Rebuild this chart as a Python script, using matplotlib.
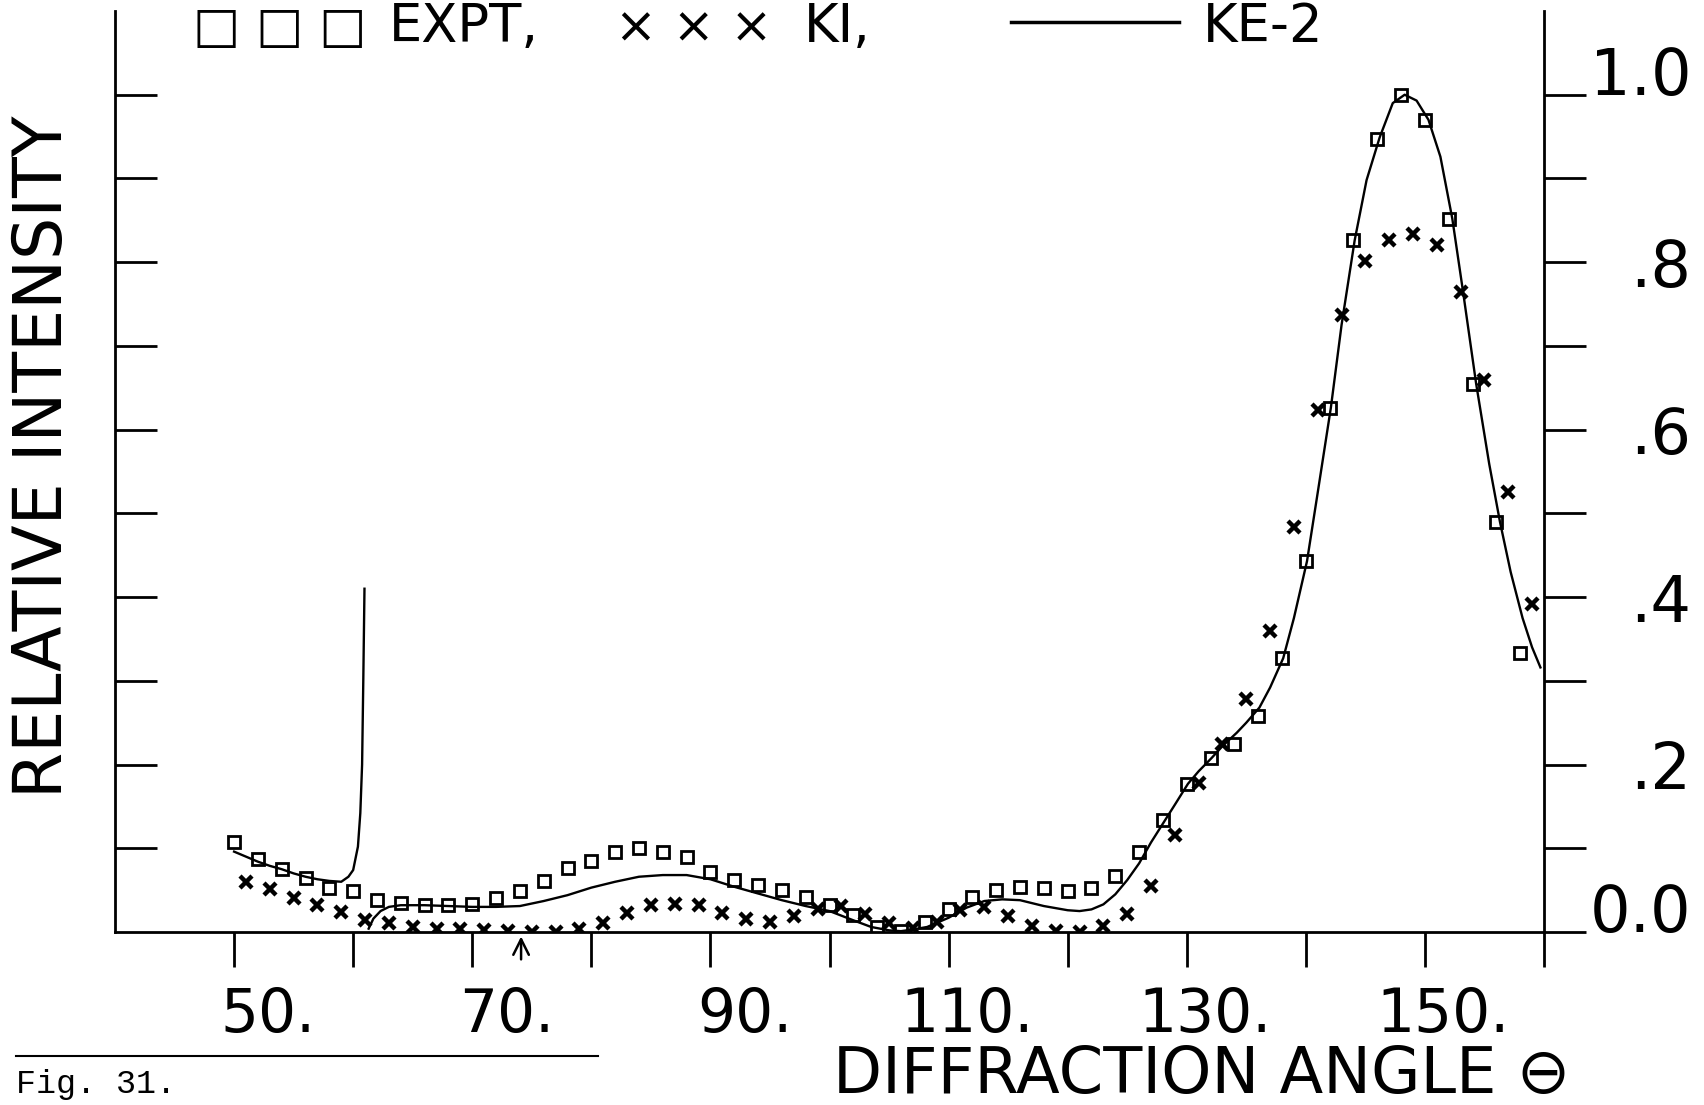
import matplotlib
matplotlib.use("Agg")
import matplotlib.pyplot as plt
import matplotlib.transforms as mtransforms
from matplotlib.lines import Line2D
import numpy as np

# EXPT (squares)
expt_x = [50, 52, 54, 56, 58, 60, 62, 64, 66, 68, 70, 72, 74, 76, 78, 80, 82, 84, 86, 88,
          90, 92, 94, 96, 98, 100, 102, 104, 106, 108, 110, 112, 114, 116, 118, 120, 122, 124, 126, 128,
          130, 132, 134, 136, 138, 140, 142, 144, 146, 148, 150, 152, 154, 156, 158]
expt_y = [0.108, 0.087, 0.075, 0.065, 0.053, 0.049, 0.038, 0.035, 0.032, 0.032, 0.033, 0.041, 0.049, 0.061, 0.076, 0.085, 0.096, 0.100, 0.096, 0.089,
          0.072, 0.062, 0.056, 0.050, 0.042, 0.032, 0.020, 0.006, 0.001, 0.012, 0.028, 0.042, 0.050, 0.054, 0.052, 0.049, 0.052, 0.067, 0.095, 0.134,
          0.177, 0.208, 0.225, 0.258, 0.327, 0.443, 0.626, 0.826, 0.947, 1.000, 0.970, 0.852, 0.655, 0.490, 0.333]

# KI (crosses)
ki_x = [51, 53, 55, 57, 59, 61, 63, 65, 67, 69, 71, 73, 75, 77, 79, 81, 83, 85, 87, 89,
        91, 93, 95, 97, 99, 101, 103, 105, 107, 109, 111, 113, 115, 117, 119, 121, 123, 125, 127, 129,
        131, 133, 135, 137, 139, 141, 143, 145, 147, 149, 151, 153, 155, 157, 159]
ki_y = [0.060, 0.051, 0.041, 0.032, 0.024, 0.014, 0.011, 0.006, 0.004, 0.004, 0.002, 0.001, 0.000, 0.000, 0.004, 0.011, 0.023, 0.032, 0.034, 0.032,
        0.023, 0.015, 0.012, 0.019, 0.028, 0.031, 0.022, 0.011, 0.005, 0.012, 0.026, 0.030, 0.019, 0.007, 0.001, 0.000, 0.007, 0.021, 0.055, 0.116,
        0.178, 0.225, 0.278, 0.360, 0.484, 0.623, 0.737, 0.801, 0.827, 0.834, 0.820, 0.764, 0.659, 0.525, 0.392]

# KE-2 curve, first pen stroke (ends in the spike) and the rest
ke_a_x = [50.0, 51.0, 52.0, 53.0, 54.0, 55.0, 56.0, 57.0, 58.0, 59.0, 59.6, 60.0, 60.4, 60.6, 60.75, 60.85, 60.95]
ke_a_y = [0.096, 0.090, 0.084, 0.079, 0.075, 0.070, 0.066, 0.063, 0.061, 0.060, 0.066, 0.074, 0.102, 0.142, 0.20, 0.30, 0.41]

ke_b_x = [61.3, 61.7, 62.3, 63.0, 64.0, 66.0, 68.0, 70.0, 72.0, 74.0, 76.0, 78.0, 80.0, 82.0, 84.0, 86.0, 88.0, 90.0,
          92.0, 94.0, 96.0, 98.0, 100.0, 102.0, 103.5, 105.0, 106.0, 107.0, 108.2, 110.0, 111.5, 113.0, 114.5, 116.0,
          118.0, 120.0, 121.0, 122.0, 123.0, 124.0, 125.0, 126.0, 127.0, 128.2, 129.0, 130.1, 131.0, 132.1, 133.0,
          134.2, 135.0, 136.1, 137.0, 138.1, 139.0, 140.1, 141.0, 142.1, 143.0, 144.1, 145.1, 146.2, 147.3, 148.3,
          149.3, 150.3, 151.3, 152.3, 153.2, 154.3, 155.4, 156.3, 157.2, 158.2, 159.0, 159.7]
ke_b_y = [0.004, 0.016, 0.025, 0.030, 0.032, 0.032, 0.031, 0.030, 0.030, 0.031, 0.037, 0.044, 0.053, 0.060, 0.066, 0.068, 0.068, 0.063,
          0.054, 0.046, 0.038, 0.031, 0.025, 0.014, 0.006, 0.002, 0.001, 0.003, 0.006, 0.017, 0.029, 0.037, 0.039, 0.038,
          0.031, 0.026, 0.025, 0.027, 0.033, 0.045, 0.062, 0.082, 0.107, 0.134, 0.152, 0.177, 0.192, 0.208, 0.222,
          0.238, 0.250, 0.268, 0.292, 0.327, 0.375, 0.443, 0.525, 0.626, 0.725, 0.826, 0.898, 0.949, 0.990, 1.000,
          0.993, 0.970, 0.926, 0.852, 0.765, 0.655, 0.559, 0.490, 0.430, 0.375, 0.340, 0.316]

x_ticks = [50, 60, 70, 80, 90, 100, 110, 120, 130, 140, 150, 160]
x_labels = ["50.", "", "70.", "", "90.", "", "110.", "", "130.", "", "150.", ""]
y_ticks_right = [0.0, 0.1, 0.2, 0.3, 0.4, 0.5, 0.6, 0.7, 0.8, 0.9, 1.0]
y_labels_right = ["0.0", "", ".2", "", ".4", "", ".6", "", ".8", "", "1.0"]

W, H = 1704, 1105
fig = plt.figure(figsize=(W / 100, H / 100), dpi=100)
plt.rcParams['font.family'] = ['DejaVu Sans']

ax = fig.add_axes([115 / W, 173 / H, 1429 / W, 921 / H])
ax.set_xlim(40, 160)
ax.set_ylim(0, 1.1)

ax.plot(ke_a_x, ke_a_y, color='black', lw=1.7)
ax.plot(ke_b_x, ke_b_y, color='black', lw=1.7)
ax.plot(expt_x, expt_y, ls='none', marker='s', ms=9, mfc='none', mec='black', mew=2)
ax.plot(ki_x, ki_y, ls='none', marker='x', ms=8, mec='black', mew=3.2)

for s in ['top', 'right']:
    ax.spines[s].set_visible(False)
for s in ['left', 'bottom']:
    ax.spines[s].set_linewidth(2)

ax.set_yticks([0.1, 0.2, 0.3, 0.4, 0.5, 0.6, 0.7, 0.8, 0.9, 1.0])
ax.tick_params(axis='y', direction='in', length=30, width=2, labelleft=False)
ax.set_xticks(x_ticks)
ax.set_xticklabels(x_labels)
ax.tick_params(axis='x', direction='out', length=25, width=2, pad=14, labelsize=43)
# plotter labels sit right of their ticks
for lab in ax.get_xticklabels():
    dx = 34 if len(lab.get_text()) == 3 else 18
    lab.set_transform(lab.get_transform() + mtransforms.ScaledTranslation(dx / 100, 0, fig.dpi_scale_trans))

ax2 = ax.twinx()
ax2.set_ylim(0, 1.1)
for s in ['top', 'left', 'bottom']:
    ax2.spines[s].set_visible(False)
ax2.spines['right'].set_linewidth(2)
ax2.set_yticks(y_ticks_right)
ax2.set_yticklabels(y_labels_right)
ax2.tick_params(axis='y', direction='out', length=30, width=2, pad=76, labelsize=46)
for lab in ax2.get_yticklabels():
    lab.set_horizontalalignment('right')
    if lab.get_text() in ("0.0", "1.0"):
        lab.set_verticalalignment('baseline')

# little arrow under the axis near 74 degrees
ax.annotate('', xy=(74.1, -0.002), xytext=(74.1, -0.036),
            arrowprops=dict(arrowstyle='->', lw=1.8, color='black', mutation_scale=28),
            annotation_clip=False)

# axis titles
fig.text(43 / W, 0.587, "RELATIVE INTENSITY", rotation=90, ha='center', va='center', fontsize=48)
fig.text(1202 / W, 30 / H, "DIFFRACTION ANGLE \u2296", ha='center', va='center', fontsize=46)

# legend line at the top
ty = (H - 42) / H
fig.text(193 / W, ty, "\u25a1 \u25a1 \u25a1", ha='left', va='baseline', fontsize=36)
fig.text(389 / W, ty, "EXPT,", ha='left', va='baseline', fontsize=38)
fig.text(615 / W, ty, "\u00d7 \u00d7 \u00d7", ha='left', va='baseline', fontsize=36)
fig.text(804 / W, ty, "KI,", ha='left', va='baseline', fontsize=38)
fig.add_artist(Line2D([1011 / W, 1179 / W], [(H - 22) / H, (H - 22) / H], color='black', lw=2.5))
fig.text(1203 / W, ty, "KE-2", ha='left', va='baseline', fontsize=38)

# caption
fig.add_artist(Line2D([16 / W, 598 / W], [49 / H, 49 / H], color='black', lw=1.5))
fig.text(16 / W, 12 / H, "Fig. 31.", ha='left', va='baseline', fontsize=24, family=['Liberation Mono', 'DejaVu Sans Mono'])

fig.savefig("out.png", dpi=100)
